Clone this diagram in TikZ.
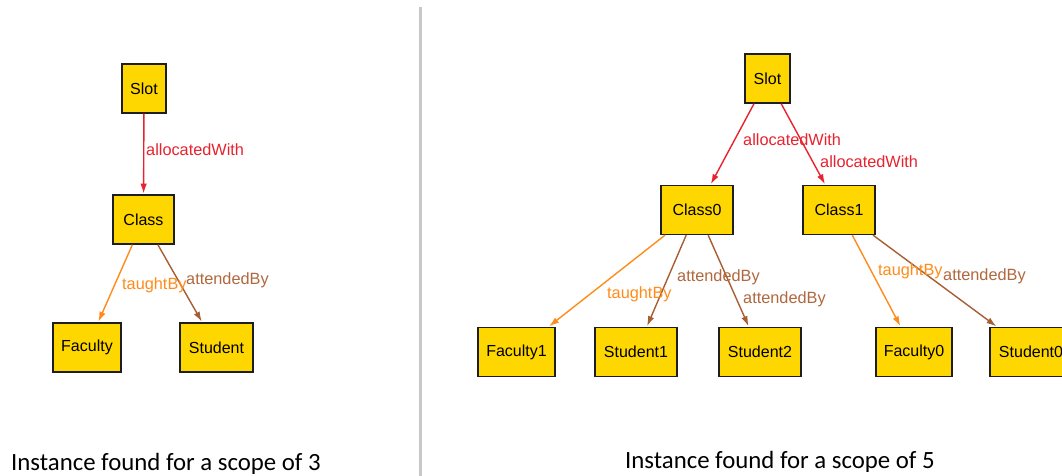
\documentclass[tikz,border=0pt]{standalone}
\usepackage{fontspec}
\setmainfont{Liberation Sans}
\newfontfamily\captionfont{Carlito}
\usetikzlibrary{arrows.meta}

\definecolor{boxfill}{HTML}{FFD700}
\definecolor{boxline}{HTML}{1E1E1E}
\definecolor{allocred}{HTML}{E8232E}
\definecolor{taughtorange}{HTML}{FF8C1A}
\definecolor{attendbrown}{HTML}{A65E32}
\definecolor{attendlabel}{HTML}{B0683E}
\definecolor{divider}{HTML}{C8C8C8}

\tikzset{
  atom/.style={draw=boxline, fill=boxfill, line width=1.4pt, inner sep=0pt,
    minimum height=49pt, font=\fontsize{16}{18}\selectfont, text=black},
  rel/.style={line width=1.4pt, -{Latex[length=10pt,width=6.5pt]}, shorten >=0.7pt},
  allocated/.style={rel, draw=allocred},
  taught/.style={rel, draw=taughtorange},
  attended/.style={rel, draw=attendbrown},
  lbl/.style={anchor=west, inner sep=0pt, font=\fontsize{16.3}{19}\selectfont},
  alloclbl/.style={lbl, text=allocred},
  taughtlbl/.style={lbl, text=taughtorange},
  attendlbl/.style={lbl, text=attendlabel},
  caption/.style={anchor=base west, inner sep=0pt, font=\captionfont\fontsize{24.8}{29}\selectfont, text=black}
}

\begin{document}
\begin{tikzpicture}[x=1pt, y=-1pt]
\clip (0,0) rectangle (1062,476);
\fill[white] (0,0) rectangle (1062,476);

% divider between the two instances
\fill[divider] (418.5,7) rectangle (422,476);

% ---- scope of 3 ----
\node[atom, minimum width=44pt] (slotA) at (144,88.5) {Slot};
\node[atom, minimum width=61pt] (classA) at (143.5,219.5) {Class};
\node[atom, minimum width=68pt] (facultyA) at (87,347.5) {Faculty};
\node[atom, minimum width=73pt] (studentA) at (216.5,347.5) {Student};

\draw[allocated] (slotA) -- (classA);
\draw[taught] (classA) -- (facultyA);
\draw[attended] (classA) -- (studentA);

\node[alloclbl] (lblA1) at (146,150) {allocatedWith};
\node[taughtlbl] (lblA2) at (122,285) {taughtBy};
\node[attendlbl] (lblA3) at (186,280) {attendedBy};

\node[caption] (capA) at (11,470.5) {Instance found for a scope of 3};

% ---- scope of 5 ----
\node[atom, minimum width=45pt] (slotB) at (767.5,78.5) {Slot};
\node[atom, minimum width=72pt] (class0) at (697,210) {Class0};
\node[atom, minimum width=72pt] (class1) at (839,210) {Class1};
\node[atom, minimum width=77pt] (faculty1) at (516.5,352) {Faculty1};
\node[atom, minimum width=82pt] (student1) at (636,352) {Student1};
\node[atom, minimum width=82pt] (student2) at (760,352) {Student2};
\node[atom, minimum width=76pt] (faculty0) at (914,352) {Faculty0};
\node[atom, minimum width=82pt] (student0) at (1031,352) {Student0};

\draw[allocated] (slotB) -- (class0);
\draw[allocated] (slotB) -- (class1);
\draw[taught] (class0) -- (faculty1);
\draw[attended] (class0) -- (student1);
\draw[attended] (class0) -- (student2);
\draw[taught] (class1) -- (faculty0);
\draw[attended] (class1) -- (student0);

\node[alloclbl] (lblB1) at (743,140) {allocatedWith};
\node[alloclbl] (lblB2) at (820,162) {allocatedWith};
\node[attendlbl] (lblB3) at (677,277) {attendedBy};
\node[taughtlbl] (lblB4) at (607,294) {taughtBy};
\node[attendlbl] (lblB5) at (743,299) {attendedBy};
\node[taughtlbl] (lblB6) at (878,271) {taughtBy};
\node[attendlbl] (lblB7) at (943,276) {attendedBy};

\node[caption] (capB) at (625,468) {Instance found for a scope of 5};
\end{tikzpicture}
\end{document}
